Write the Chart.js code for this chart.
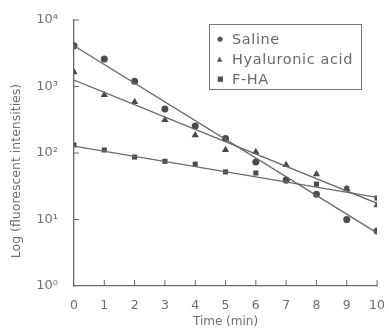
<!DOCTYPE html>
<html>
<head>
<meta charset="utf-8">
<script src="https://cdn.jsdelivr.net/npm/chart.js@4"></script>
<style>
  html, body { margin: 0; padding: 0; background: #fff; }
  #wrap { position: relative; width: 389px; height: 329px; }
  #legend {
    position: absolute; left: 209px; top: 24px; width: 153px; height: 66px;
    border: 1.5px solid #777; box-sizing: border-box;
    font-family: 'DejaVu Sans', sans-serif; font-size: 14.5px; letter-spacing: 0.6px; color: #6a6a6a;
    padding: 4px 0 0 7px; line-height: 20px;
  }
  #legend .mk { display: inline-block; width: 15px; font-size: 7px; letter-spacing: 0; color: #555; vertical-align: 3px; }
</style>
</head>
<body>
<div id="wrap">
  <canvas id="chart" width="389" height="329"></canvas>
  <div id="legend">
    <div><span class="mk">●</span>Saline</div>
    <div><span class="mk">▲</span>Hyaluronic acid</div>
    <div><span class="mk">■</span>F-HA</div>
  </div>
</div>
<script>
const times = [0, 1, 2, 3, 4, 5, 6, 7, 8, 9, 10]
const saline = [4100, 2600, 1200, 460, 255, 165, 73, 39, 24, 10, 6.7]
const hyaluronic = [1650, 745, 585, 315, 186, 111, 104, 66, 48, 29, 16.5]
const fha = [132, 111, 87, 75, 68, 52, 50, 40, 34, 29, 21]

// straight fit lines, end points at t = 0 and t = 10
const fitTimes = [0, 10]
const salineFit = [4100, 6.3]
const hyaluronicFit = [1250, 17.5]
const fhaFit = [127, 21.5]

const yTicks = [1, 10, 100, 1000, 10000]
const yLabels = ['10⁰', '10¹', '10²', '10³', '10⁴']

const ink = '#4a4a4a'
const lineInk = '#6a6a6a'
const textInk = '#6e6e6e'
const font = 'DejaVu Sans, sans-serif'

const pts = (xs, ys) => xs.map((x, i) => ({ x: x, y: ys[i] }))

const fitLine = (ys) => ({
  data: pts(fitTimes, ys),
  showLine: true,
  borderColor: lineInk,
  borderWidth: 1.4,
  pointRadius: 0
})

const markers = (ys, style, r) => ({
  data: pts(times, ys),
  showLine: false,
  pointStyle: style,
  pointRadius: r,
  backgroundColor: ink,
  borderColor: ink,
  borderWidth: 0
})

// short inward tick marks on both axes
const innerTicks = {
  id: 'innerTicks',
  afterDraw(chart) {
    const { ctx, chartArea, scales } = chart
    ctx.save()
    ctx.strokeStyle = lineInk
    ctx.lineWidth = 1
    scales.x.ticks.forEach(t => {
      if (t.value === 0) return
      const px = scales.x.getPixelForValue(t.value)
      ctx.beginPath()
      ctx.moveTo(px, chartArea.bottom)
      ctx.lineTo(px, chartArea.bottom - 6)
      ctx.stroke()
    })
    yTicks.forEach(v => {
      if (v === 1) return
      const py = scales.y.getPixelForValue(v)
      ctx.beginPath()
      ctx.moveTo(chartArea.left, py)
      ctx.lineTo(chartArea.left + 5, py)
      ctx.stroke()
    })
    // y title, placed a little below the middle as in the figure
    ctx.fillStyle = textInk
    ctx.font = '12.5px ' + font
    ctx.translate(17, 171)
    ctx.rotate(-Math.PI / 2)
    ctx.textAlign = 'center'
    ctx.textBaseline = 'middle'
    ctx.fillText('Log (fluorescent intensities)', 0, 0)
    ctx.restore()
  }
}

new Chart(document.getElementById('chart'), {
  type: 'scatter',
  data: {
    datasets: [
      fitLine(salineFit),
      fitLine(hyaluronicFit),
      fitLine(fhaFit),
      markers(saline, 'circle', 3.5),
      markers(hyaluronic, 'triangle', 4.2),
      markers(fha, 'rect', 3.6)
    ]
  },
  options: {
    responsive: false,
    animation: false,
    layout: { padding: { left: 0, right: 11, top: 20, bottom: 0 } },
    plugins: {
      legend: { display: false },
      tooltip: { enabled: false }
    },
    scales: {
      x: {
        type: 'linear',
        min: 0,
        max: 10,
        afterFit: (s) => { s.height = 43 },
        grid: { display: false },
        border: { display: true, color: lineInk, width: 1.3 },
        ticks: { stepSize: 1, color: textInk, font: { family: font, size: 12.5 }, padding: 4 },
        title: {
          display: true,
          text: 'Time (min)',
          color: textInk,
          font: { family: font, size: 12 },
          padding: { top: 1, bottom: 0 }
        }
      },
      y: {
        type: 'logarithmic',
        min: 1,
        max: 10000,
        afterFit: (s) => { s.width = 74 },
        afterBuildTicks: (s) => { s.ticks = yTicks.map(v => ({ value: v })) },
        grid: { display: false },
        border: { display: true, color: lineInk, width: 1.3 },
        ticks: {
          color: textInk,
          font: { family: font, size: 13 },
          padding: 8,
          callback: (v) => yLabels[yTicks.indexOf(v)] ?? ''
        }
      }
    }
  },
  plugins: [innerTicks]
})
</script>
</body>
</html>
